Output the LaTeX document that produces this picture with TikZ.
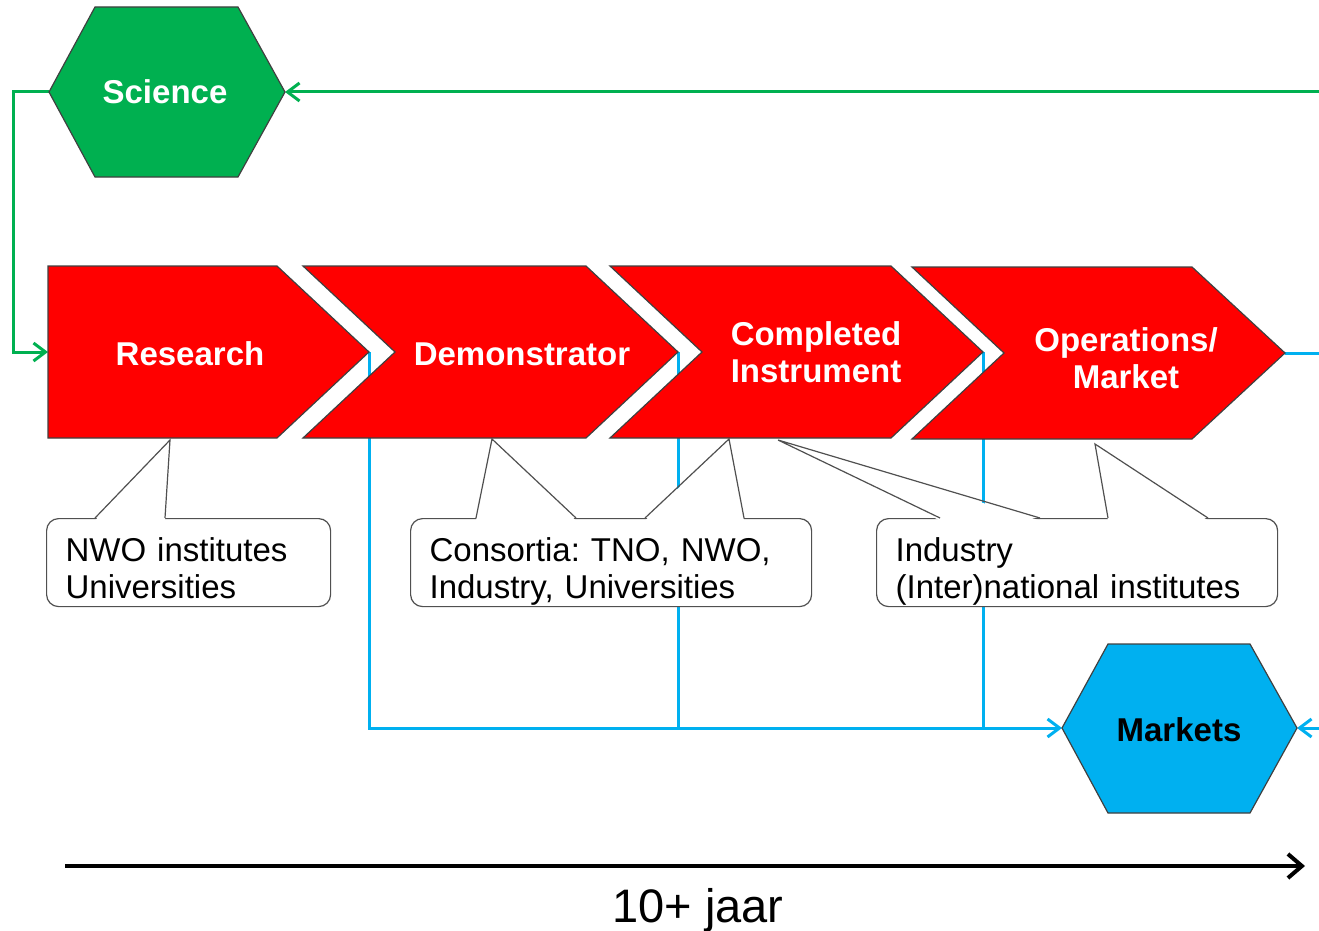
\documentclass[tikz,border=0pt]{standalone}
\usepackage{fontspec}
\setmainfont{Liberation Sans}
\usetikzlibrary{arrows.meta,calc}
\definecolor{mgreen}{HTML}{00B050}
\definecolor{mblue}{HTML}{00B0F0}
\definecolor{mred}{HTML}{FF0000}
\definecolor{edgecol}{HTML}{404040}
\definecolor{ptrcol}{HTML}{505050}
\frenchspacing
\begin{document}
\begin{tikzpicture}[x=1pt,y=-1pt,
  greenline/.style={draw=mgreen, line width=3pt},
  blueline/.style={draw=mblue, line width=3pt},
  barb/.style={-{Straight Barb[length=12pt,width=18pt]}},
  chev/.style={fill=mred, draw=edgecol, line width=1.2pt, line join=miter},
  chevlabel/.style={text=white, font=\fontsize{33}{37}\selectfont\bfseries, align=center, inner sep=0pt},
  hexsci/.style={fill=mgreen, draw=edgecol, line width=1.2pt},
  hexmkt/.style={fill=mblue, draw=edgecol, line width=1.2pt},
  callbox/.style={draw=ptrcol, line width=1.2pt, fill=white, rounded corners=12pt,
    align=left, inner xsep=19pt, inner ysep=1pt, anchor=north west,
    minimum height=88pt, font=\fontsize{33}{37}\selectfont,
    execute at begin node={\rule{0pt}{42pt}},
    execute at end node={\rule[-7pt]{0pt}{7pt}}},
  ptr/.style={draw=ptrcol, line width=1.2pt, line join=miter}]
\useasboundingbox (0,0) rectangle (1319,931);

% key coordinates
\coordinate (sciW) at (49,92);
\coordinate (sciE) at (285,92);
\coordinate (mktW) at (1062,728);
\coordinate (mktE) at (1297,728);
\coordinate (resL) at (48,352);
\coordinate (resT) at (369,352);
\coordinate (demT) at (678,352);
\coordinate (comT) at (983,352);
\coordinate (opsT) at (1285,353);
\coordinate (gcorner) at (13,92);
\coordinate (gR) at (1319,92);
\coordinate (bR1) at (1319,353);
\coordinate (bR2) at (1319,728);

% blue connectors (behind chevrons)
\draw[blueline, barb] (resT) |- (mktW);
\draw[blueline] (demT) -- (demT |- mktW);
\draw[blueline] (comT) -- (comT |- mktW);
\draw[blueline] (opsT) -- (bR1);
\draw[blueline, barb] (bR2) -- (mktE);

% green connectors
\draw[greenline, barb] (sciW) -- (gcorner) |- (resL);
\draw[greenline, barb] (gR) -- (sciE);

% chevrons
\draw[chev] (48,266) -- (277,266) -- (resT) -- (277,438) -- (48,438) -- cycle;
\draw[chev] (303,266) -- (586,266) -- (demT) -- (586,438) -- (303,438) -- (395,352) -- cycle;
\draw[chev] (610,266) -- (891,266) -- (comT) -- (891,438) -- (610,438) -- (702,352) -- cycle;
\draw[chev] (912,267) -- (1192,267) -- (opsT) -- (1192,439) -- (912,439) -- (1004,353) -- cycle;

\node[chevlabel] (res) at (190,354) {Research};
\node[chevlabel] (dem) at (522,354) {Demonstrator};
\node[chevlabel] (com) at (816,352) {Completed\\Instrument};
\node[chevlabel] (ops) at (1126,358) {Operations/\\Market};

% hexagons
\draw[hexsci] (95,7) -- (238,7) -- (sciE) -- (238,177) -- (95,177) -- (sciW) -- cycle;
\node[text=white, font=\fontsize{33}{37}\selectfont\bfseries] (sci) at (165,92) {Science};
\draw[hexmkt] (1108,644) -- (1250,644) -- (mktE) -- (1250,813) -- (1108,813) -- (mktW) -- cycle;
\node[text=black, font=\fontsize{33}{37}\selectfont\bfseries] (mkt) at (1179,730) {Markets};

% callout boxes
\node[callbox, text width=246pt] (n1) at (46,518) {NWO institutes\\Universities};
\node[callbox, text width=363pt] (n2) at (410,518) {Consortia: TNO, NWO,\\Industry, Universities};
\node[callbox, text width=363pt] (n3) at (876,518) {Industry\\(Inter)national institutes};

% pointer tips
\coordinate (t1) at (170,440);
\coordinate (t2) at (492,439);
\coordinate (t3) at (729,439);
\coordinate (t4) at (778,440);
\coordinate (t5) at (1095,444);

\fill[white] (95,520.5) -- (t1) -- (165,520.5) -- cycle;
\draw[ptr] (95,518) -- (t1) -- (165,518);
\fill[white] (476,520.5) -- (t2) -- (576,520.5) -- cycle;
\draw[ptr] (476,518) -- (t2) -- (576,518);
\fill[white] (645,520.5) -- (t3) -- (744,520.5) -- cycle;
\draw[ptr] (645,518) -- (t3) -- (744,518);
\fill[white] (940,520.5) -- (t4) -- (1040,520.5) -- cycle;
\draw[ptr] (940,518) -- (t4) -- (1040,518);
\fill[white] (1108,520.5) -- (t5) -- (1208,520.5) -- cycle;
\draw[ptr] (1108,518) -- (t5) -- (1208,518);

% time axis
\coordinate (axL) at (65,866);
\coordinate (axR) at (1305,866);
\draw[line width=4pt, -{Straight Barb[length=14pt,width=24pt]}] (axL) -- (axR);
\node[font=\fontsize{47}{50}\selectfont] (jaar) at (698,910) {10+ jaar};
\end{tikzpicture}
\end{document}
